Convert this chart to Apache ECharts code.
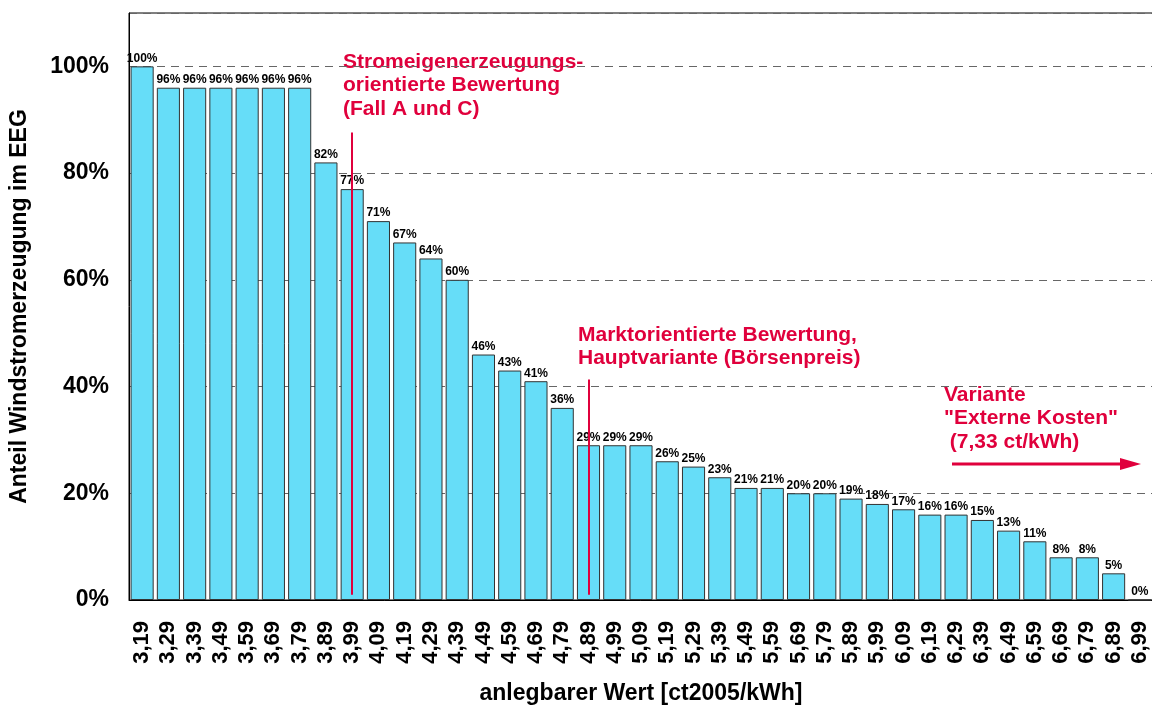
<!DOCTYPE html>
<html>
<head>
<meta charset="utf-8">
<script src="https://cdn.jsdelivr.net/npm/echarts@6/dist/echarts.min.js"></script>
<style>
  html, body { margin: 0; padding: 0; background: #fff; }
  #chart { width: 1152px; height: 706px; }
</style>
</head>
<body>
<div id="chart"></div>
<script>
const categories = ['3,19', '3,29', '3,39', '3,49', '3,59', '3,69', '3,79', '3,89', '3,99', '4,09',
  '4,19', '4,29', '4,39', '4,49', '4,59', '4,69', '4,79', '4,89', '4,99', '5,09',
  '5,19', '5,29', '5,39', '5,49', '5,59', '5,69', '5,79', '5,89', '5,99', '6,09',
  '6,19', '6,29', '6,39', '6,49', '6,59', '6,69', '6,79', '6,89', '6,99']
const shares = [100, 96, 96, 96, 96, 96, 96, 82, 77, 71,
  67, 64, 60, 46, 43, 41, 36, 29, 29, 29,
  26, 25, 23, 21, 21, 20, 20, 19, 18, 17,
  16, 16, 15, 13, 11, 8, 8, 5, 0]
const yTicks = [0, 20, 40, 60, 80, 100]

const red = '#e0003c'
const font = 'Liberation Sans, Arial, sans-serif'

const chart = echarts.init(document.getElementById('chart'))

const options = {
  animation: false,
  grid: {
    left: 129,
    right: -1,
    top: 13,
    bottom: 106,
    outerBoundsMode: 'none',
    show: true,
    borderColor: '#000',
    borderWidth: 1,
  },
  xAxis: {
    type: 'category',
    data: categories,
    name: 'anlegbarer Wert [ct2005/kWh]',
    nameLocation: 'middle',
    nameGap: 82,
    nameTextStyle: { fontFamily: font, fontWeight: 'bold', fontSize: 23, color: '#000' },
    axisLine: { lineStyle: { color: '#000' } },
    axisTick: { show: false },
    axisLabel: {
      rotate: 90,
      interval: 0,
      margin: 21,
      fontFamily: font,
      fontWeight: 'bold',
      fontSize: 22,
      color: '#000',
    },
  },
  yAxis: {
    type: 'value',
    min: 0,
    max: 110,
    interval: 20,
    name: 'Anteil Windstromerzeugung im EEG',
    nameLocation: 'middle',
    nameGap: 98,
    nameTextStyle: { fontFamily: font, fontWeight: 'bold', fontSize: 23, color: '#000' },
    axisLine: { show: true, lineStyle: { color: '#000' } },
    axisTick: { show: false },
    axisLabel: {
      margin: 20,
      fontFamily: font,
      fontWeight: 'bold',
      fontSize: 23,
      color: '#000',
      formatter: v => (yTicks.includes(v) ? v + '%' : ''),
    },
    splitLine: {
      lineStyle: { type: [8, 6], color: '#666', width: 1 },
    },
  },
  series: [
    {
      type: 'bar',
      data: shares,
      barCategoryGap: '12%',
      itemStyle: { color: '#66ddf8', borderColor: '#333', borderWidth: 1 },
      label: {
        show: true,
        position: 'top',
        distance: 2,
        formatter: '{c}%',
        fontFamily: font,
        fontWeight: 'bold',
        fontSize: 12,
        color: '#000',
      },
      markLine: {
        silent: true,
        symbol: 'none',
        label: { show: false },
        lineStyle: { color: red, width: 2, type: 'solid' },
        data: [
          [{ coord: ['3,99', 1] }, { coord: ['3,99', 87.6] }],
          [{ coord: ['4,89', 1] }, { coord: ['4,89', 41.3] }],
        ],
      },
    },
  ],
  graphic: [
    {
      type: 'text',
      left: 343,
      top: 50,
      style: {
        text: 'Stromeigenerzeugungs-\norientierte Bewertung\n(Fall A und C)',
        font: 'bold 21px ' + font,
        fill: red,
        lineHeight: 23.5,
      },
    },
    {
      type: 'text',
      left: 578,
      top: 323,
      style: {
        text: 'Marktorientierte Bewertung,\nHauptvariante (Börsenpreis)',
        font: 'bold 21px ' + font,
        fill: red,
        lineHeight: 23.5,
      },
    },
    {
      type: 'text',
      left: 944,
      top: 383,
      style: {
        text: 'Variante\n"Externe Kosten"\n (7,33 ct/kWh)',
        font: 'bold 21px ' + font,
        fill: red,
        lineHeight: 23.5,
      },
    },
    {
      type: 'line',
      shape: { x1: 952, y1: 464, x2: 1125, y2: 464 },
      style: { stroke: red, lineWidth: 3 },
    },
    {
      type: 'polygon',
      shape: { points: [[1120, 458], [1141, 464], [1120, 470]] },
      style: { fill: red },
    },
  ],
}

chart.setOption(options)
window.onresize = function () {
  chart.resize()
}
</script>
</body>
</html>
